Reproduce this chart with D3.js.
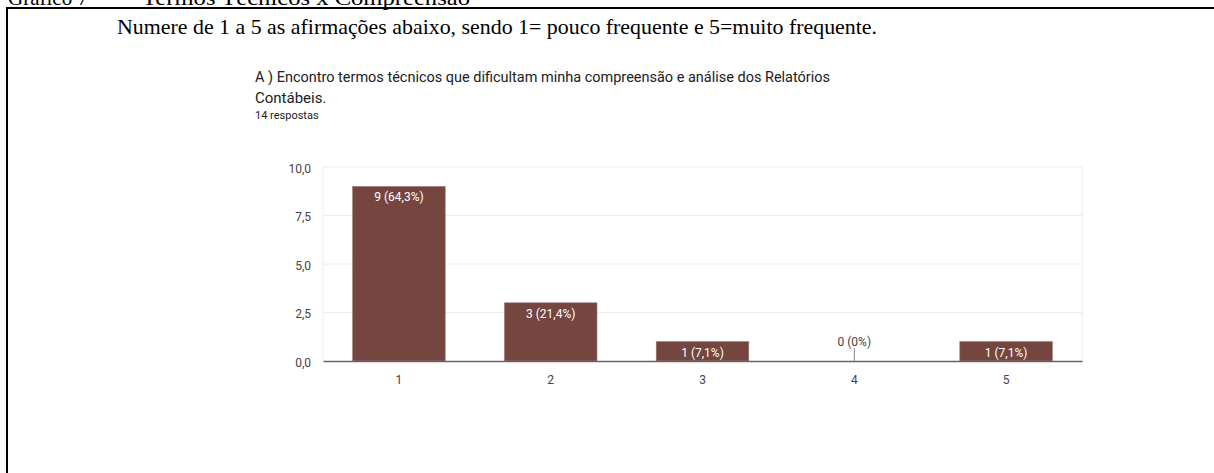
<!DOCTYPE html>
<html>
<head>
<meta charset="utf-8">
<script src="https://cdn.jsdelivr.net/npm/d3@7"></script>
<style>
  html, body { margin: 0; padding: 0; background: #fff; }
  svg { display: block; }
</style>
</head>
<body>
<svg id="chart"></svg>
<script>
const categories = ["1", "2", "3", "4", "5"];
const counts = [9, 3, 1, 0, 1];
const percentLabels = ["64,3%", "21,4%", "7,1%", "0%", "7,1%"];
const yTicks = [0, 2.5, 5, 7.5, 10];

const width = 1214, height = 473;
const svg = d3.select("#chart").attr("width", width).attr("height", height);

const serif = "Liberation Serif, Times New Roman, serif";
const titleFont = "Roboto, Arial, sans-serif";

// caption cut at the top of the page: "Gráfico 7 – Termos Técnicos x Compreensão"
const caption = svg.append("text")
    .attr("y", 5)
    .attr("font-family", serif).attr("font-size", 21).attr("fill", "#000");
caption.append("tspan").attr("x", 8).text("Gráfico 7");
caption.append("tspan").attr("x", 100).text("–");
caption.append("tspan").attr("x", 142)
    .attr("textLength", 328).attr("lengthAdjust", "spacingAndGlyphs")
    .text("Termos Técnicos x Compreensão");

// document table border
svg.append("line").attr("x1", 6).attr("x2", width).attr("y1", 8).attr("y2", 8)
    .attr("stroke", "#000").attr("stroke-width", 2);
svg.append("line").attr("x1", 7).attr("x2", 7).attr("y1", 7).attr("y2", height)
    .attr("stroke", "#000").attr("stroke-width", 2);

svg.append("text")
    .attr("x", 117).attr("y", 34)
    .attr("font-family", serif).attr("font-size", 21).attr("fill", "#000")
    .attr("textLength", 760).attr("lengthAdjust", "spacingAndGlyphs")
    .text("Numere de 1 a 5 as afirmações abaixo, sendo 1= pouco frequente e 5=muito frequente.");

// chart titles
svg.append("text").attr("x", 255).attr("y", 82)
    .attr("font-family", titleFont).attr("font-size", 15).attr("fill", "#202124")
    .attr("textLength", 575).attr("lengthAdjust", "spacingAndGlyphs")
    .text("A ) Encontro termos técnicos que dificultam minha compreensão e análise dos Relatórios");
svg.append("text").attr("x", 255).attr("y", 103)
    .attr("font-family", titleFont).attr("font-size", 15).attr("fill", "#202124")
    .text("Contábeis.");
svg.append("text").attr("x", 255).attr("y", 119)
    .attr("font-family", titleFont).attr("font-size", 11).attr("fill", "#202124")
    .text("14 respostas");

// plot
const plotLeft = 323, plotRight = 1082, plotTop = 167, plotBottom = 361;

const x = d3.scaleBand().domain(categories).range([plotLeft, plotRight]).paddingInner(0.39).paddingOuter(0.195);
const y = d3.scaleLinear().domain([0, 10]).range([plotBottom, plotTop]);

const fmt = v => d3.format(".1f")(v).replace(".", ",");

// gridlines
svg.append("g").selectAll("line").data(yTicks.filter(d => d > 0)).join("line")
    .attr("x1", plotLeft).attr("x2", plotRight)
    .attr("y1", d => y(d)).attr("y2", d => y(d))
    .attr("stroke", "#ececec").attr("stroke-width", 1);
svg.append("g").selectAll("line").data([plotLeft, plotRight]).join("line")
    .attr("x1", d => d).attr("x2", d => d)
    .attr("y1", y(10)).attr("y2", y(0))
    .attr("stroke", "#ececec").attr("stroke-width", 1);

// y axis labels
const yAxis = d3.axisLeft(y).tickValues(yTicks).tickFormat(fmt).tickSize(0).tickPadding(12);
const gy = svg.append("g").attr("transform", `translate(${plotLeft},0)`).call(yAxis);
gy.select(".domain").remove();
gy.selectAll("text").attr("font-family", titleFont).attr("font-size", 12).attr("fill", "#444")
    .attr("dy", "0.45em");

// bars
svg.append("g").selectAll("rect").data(counts).join("rect")
    .attr("x", (d, i) => x(categories[i]))
    .attr("width", x.bandwidth())
    .attr("y", d => y(d))
    .attr("height", d => y(0) - y(d))
    .attr("fill", "#754540")
    .attr("stroke", "#9c7a76").attr("stroke-width", 0.6);

// baseline / x axis
const xAxis = d3.axisBottom(x).tickSize(0).tickPadding(14);
const gx = svg.append("g").attr("transform", `translate(0,${plotBottom})`).call(xAxis);
gx.select(".domain").attr("stroke", "#666").attr("stroke-width", 1.5);
gx.selectAll("text").attr("font-family", titleFont).attr("font-size", 12).attr("fill", "#444");

// bar value labels
counts.forEach((d, i) => {
  const cx = x(categories[i]) + x.bandwidth() / 2;
  const label = `${d} (${percentLabels[i]})`;
  if (d > 0) {
    svg.append("text").attr("x", cx).attr("y", y(d) + 15)
        .attr("text-anchor", "middle")
        .attr("font-family", titleFont).attr("font-size", 12).attr("fill", "#fff")
        .text(label);
  } else {
    svg.append("line").attr("x1", cx).attr("x2", cx).attr("y1", y(0) - 13).attr("y2", y(0))
        .attr("stroke", "#888").attr("stroke-width", 1);
    svg.append("text").attr("x", cx).attr("y", y(0) - 15)
        .attr("text-anchor", "middle")
        .attr("font-family", titleFont).attr("font-size", 12).attr("fill", "#444")
        .text(label);
  }
});
</script>
</body>
</html>
